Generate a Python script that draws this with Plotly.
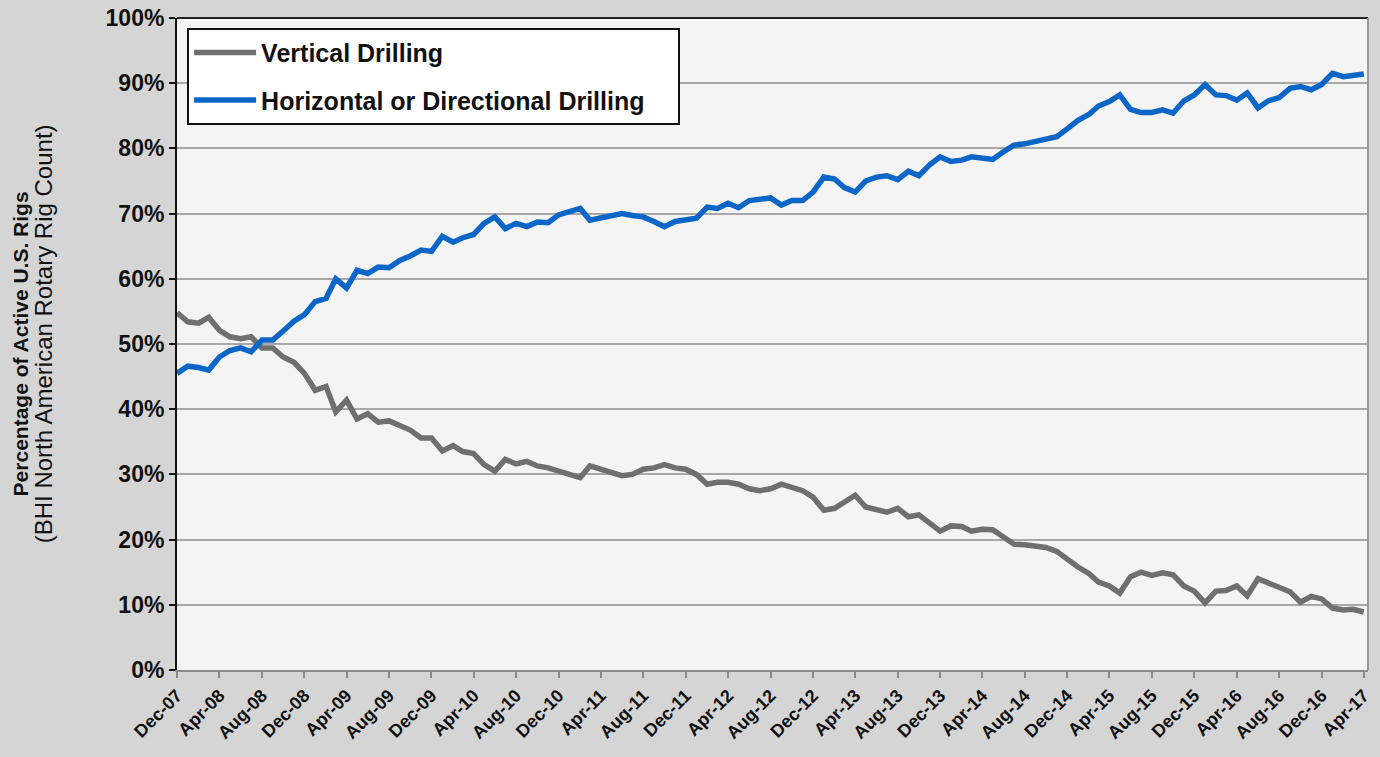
import pandas as pd
import plotly.graph_objects as go

# Monthly observations, Dec-2007 .. Apr-2017 (percent of active U.S. rigs)
start_month = "2007-12-01"
vertical = [
    54.8, 53.4, 53.2, 54.1, 52.1, 51.1, 50.8, 51.1, 49.4, 49.4,
    48.0, 47.2, 45.5, 42.9, 43.5, 39.6, 41.4, 38.5, 39.3, 38.0,
    38.2, 37.4, 36.8, 35.6, 35.6, 33.6, 34.4, 33.5, 33.2, 31.5,
    30.5, 32.3, 31.6, 32.0, 31.3, 31.0, 30.5, 29.8, 29.5, 31.3,
    30.8, 30.3, 29.8, 30.0, 30.8, 31.0, 31.5, 31.0, 30.8, 30.0,
    28.5, 28.8, 28.8, 28.5, 27.8, 27.5, 27.8, 28.5, 28.0, 27.5,
    26.5, 24.5, 24.8, 25.8, 26.8, 25.0, 24.5, 24.2, 24.8, 23.5,
    23.8, 22.5, 21.3, 22.1, 22.0, 21.3, 21.6, 21.5, 20.5, 19.3,
    19.2, 19.0, 18.8, 18.2, 17.0, 15.8, 14.8, 13.5, 12.9, 11.8,
    14.3, 15.0, 14.5, 14.9, 14.6, 12.9, 12.1, 10.3, 12.1, 12.2,
    12.9, 11.4, 14.0, 13.3, 12.8, 12.0, 10.4, 11.3, 10.9, 9.5,
    9.2, 9.3, 8.9,
]
horizontal = [
    45.5, 46.6, 46.4, 46.0, 48.0, 49.0, 49.4, 48.8, 50.6, 50.6,
    52.0, 53.5, 54.5, 56.5, 57.0, 60.0, 58.6, 61.3, 60.8, 61.8,
    61.7, 62.8, 63.5, 64.4, 64.2, 66.5, 65.6, 66.3, 66.8, 68.5,
    69.5, 67.7, 68.5, 68.0, 68.7, 68.6, 69.8, 70.3, 70.8, 69.0,
    69.3, 69.8, 70.0, 69.7, 69.5, 68.8, 68.0, 68.8, 69.0, 69.3,
    71.0, 70.8, 71.6, 70.9, 72.0, 72.3, 72.4, 71.3, 72.0, 72.0,
    73.3, 75.6, 75.3, 74.0, 73.3, 75.0, 75.6, 75.8, 75.2, 76.5,
    75.8, 77.5, 78.7, 78.0, 78.2, 78.7, 78.4, 78.3, 79.5, 80.5,
    80.7, 81.0, 81.3, 81.8, 83.0, 84.3, 85.2, 86.5, 87.2, 88.2,
    86.0, 85.5, 85.5, 85.9, 85.4, 87.3, 88.2, 89.8, 88.2, 88.1,
    87.4, 88.5, 86.2, 87.3, 87.8, 89.2, 89.5, 89.0, 89.8, 91.5,
    91.0, 91.2, 91.4,
]
tick_labels = [
    "Dec-07", "Apr-08", "Aug-08", "Dec-08", "Apr-09", "Aug-09", "Dec-09",
    "Apr-10", "Aug-10", "Dec-10", "Apr-11", "Aug-11", "Dec-11", "Apr-12",
    "Aug-12", "Dec-12", "Apr-13", "Aug-13", "Dec-13", "Apr-14", "Aug-14",
    "Dec-14", "Apr-15", "Aug-15", "Dec-15", "Apr-16", "Aug-16", "Dec-16",
    "Apr-17",
]
series_names = ["Vertical Drilling", "Horizontal or Directional Drilling"]

dates = pd.date_range(start_month, periods=len(vertical), freq="MS")
tick_dates = pd.date_range(start_month, periods=len(tick_labels), freq="4MS")

FONT = "Liberation Sans, Arial, sans-serif"
PAD = "\u00a0" * 4  # extra room on the right of the legend box

fig = go.Figure()
fig.add_trace(go.Scatter(
    x=dates, y=vertical, mode="lines", name=series_names[0],
    legendgroup="v", line=dict(color="#6f6f6f", width=5.5),
))
fig.add_trace(go.Scatter(
    x=dates, y=horizontal, mode="lines", name=series_names[1] + PAD,
    legendgroup="h", line=dict(color="#0B66C8", width=5.5),
))

fig.update_layout(
    width=1380, height=757,
    margin=dict(l=177, r=12, t=18, b=87, autoexpand=False),
    paper_bgcolor="#d5d5d5",
    plot_bgcolor="#f4f4f4",
    font=dict(family=FONT, color="#111111"),
    showlegend=True,
    legend=dict(
        x=0.0085, y=0.985, xanchor="left", yanchor="top",
        bgcolor="#ffffff", bordercolor="#111111", borderwidth=2,
        font=dict(size=25, family=FONT, color="#111111", weight="bold"),
        tracegroupgap=12,
        itemwidth=62,
    ),
    xaxis=dict(
        type="date", automargin=False,
        range=["2007-12-01", "2017-04-13"],
        tickvals=tick_dates, ticktext=tick_labels,
        tickangle=-45,
        tickfont=dict(size=18, family=FONT, color="#111111", weight="bold"),
        ticks="outside", ticklen=6, tickcolor="#8a8a8a", tickwidth=2,
        showgrid=False,
        showline=True, linecolor="#8a8a8a", linewidth=2,
        zeroline=False,
    ),
    yaxis=dict(
        range=[0, 100], dtick=10, ticksuffix="%", automargin=False,
        tickfont=dict(size=23, family=FONT, color="#111111", weight="bold"),
        ticks="outside", ticklen=6, tickcolor="#111111", tickwidth=2,
        showgrid=True, gridcolor="#a8a8a8", gridwidth=2,
        showline=True, linecolor="#111111", linewidth=2,
        zeroline=False,
    ),
)

# plot-area border: dark top edge, grey right edge
fig.add_shape(type="line", xref="paper", yref="paper", x0=0, x1=1, y0=1, y1=1,
              line=dict(color="#222222", width=2))
fig.add_shape(type="line", xref="paper", yref="paper", x0=1, x1=1, y0=0, y1=1,
              line=dict(color="#9a9a9a", width=2))

# two-line rotated y-axis title
fig.add_annotation(
    text="<b>Percentage of Active U.S. Rigs</b>", xref="paper", yref="paper",
    x=-0.1315, y=0.5, xanchor="center", yanchor="middle", textangle=-90,
    showarrow=False, font=dict(size=21, family=FONT, color="#111111"),
)
fig.add_annotation(
    text="(BHI North American Rotary Rig Count)", xref="paper", yref="paper",
    x=-0.1125, y=0.515, xanchor="center", yanchor="middle", textangle=-90,
    showarrow=False, font=dict(size=24, family=FONT, color="#111111"),
)

fig.write_html("out.html", config={"displayModeBar": False},
               post_script="document.body.style.margin='0';")
